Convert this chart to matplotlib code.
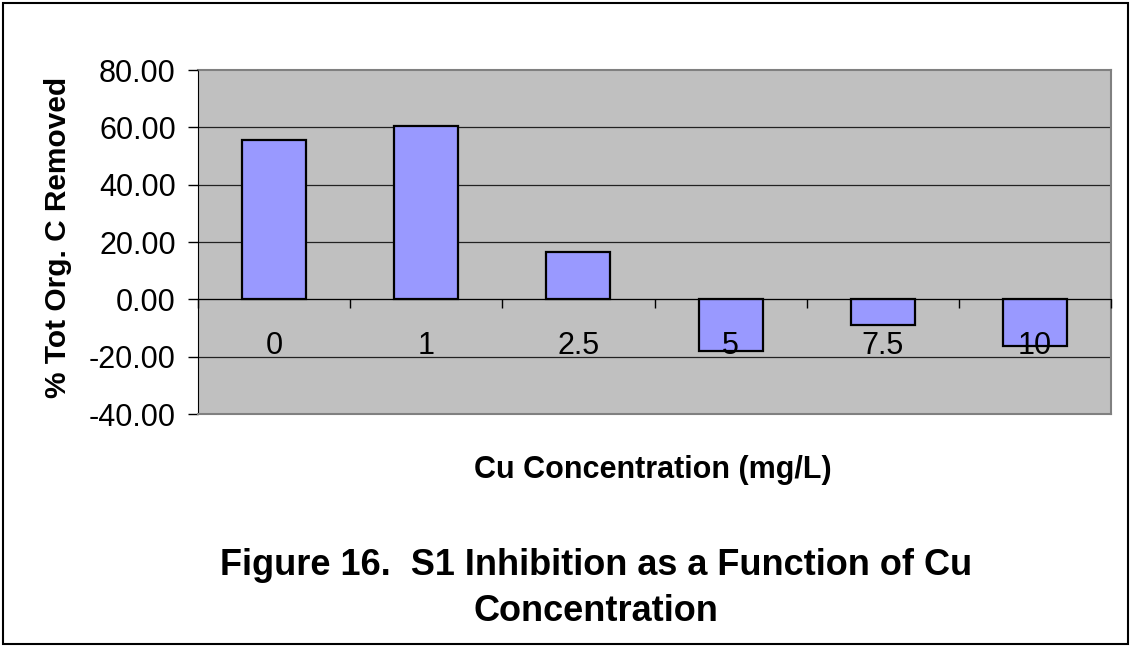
import matplotlib
matplotlib.use("Agg")
import matplotlib.pyplot as plt
from matplotlib.patches import Rectangle

# values
cu_conc = ["0", "1", "2.5", "5", "7.5", "10"]
toc_removed = [55.5, 60.4, 16.5, -18.0, -9.1, -16.3]
y_ticks = [-40, -20, 0, 20, 40, 60, 80]

plt.rcParams['font.family'] = ['Liberation Sans', 'DejaVu Sans']

fig = plt.figure(figsize=(11.33, 6.46), dpi=100)
ax = fig.add_axes([0.1748, 0.3591, 0.8058, 0.5325])
ax.set_facecolor('#C0C0C0')
# axis (and its labels) drawn above the bars, like the excel chart
ax.set_axisbelow(False)

x = list(range(len(cu_conc)))
ax.bar(x, toc_removed, width=0.42, color='#9999FF', edgecolor='black',
       linewidth=1.6, zorder=2)

ax.set_xlim(-0.5, len(cu_conc) - 0.5)
ax.set_ylim(-40, 80)
ax.set_yticks(y_ticks)
ax.set_yticklabels([f"{v:.2f}" for v in y_ticks], fontsize=22)
ax.tick_params(axis='y', direction='out', length=7, width=1, pad=9)

# gridlines
for v in y_ticks[1:-1]:
    ax.axhline(v, color='#222222', linewidth=0.9, zorder=1)

# category axis sits at zero
ax.spines['bottom'].set_position(('data', 0))
ax.spines['bottom'].set_color('black')
ax.spines['left'].set_color('black')
ax.spines['top'].set_color('#808080')
ax.spines['right'].set_color('#808080')
ax.spines['top'].set_linewidth(1.5)
ax.spines['right'].set_linewidth(1.5)
ax.set_xticks([i - 0.5 for i in range(len(cu_conc) + 1)])
ax.set_xticklabels([])
ax.tick_params(axis='x', which='major', direction='out', length=6.5, width=1)
ax.set_xticks(x, minor=True)
ax.set_xticklabels(cu_conc, minor=True, fontsize=22)
ax.tick_params(axis='x', which='minor', length=0, pad=23)

# gray bottom border of the plot area at -40
ax.axhline(-40, color='#808080', linewidth=1.5, zorder=2.6, clip_on=False)

fig.text(0.051, 0.633, "% Tot Org. C Removed", rotation=90,
         ha='center', va='center', fontsize=21.5, fontweight='bold')
fig.text(0.576, 0.272, "Cu Concentration (mg/L)", ha='center', va='center',
         fontsize=22, fontweight='bold')

fig.text(0.526, 0.125, "Figure 16.  S1 Inhibition as a Function of Cu",
         ha='center', va='center', fontsize=26, fontweight='bold')
fig.text(0.526, 0.053, "Concentration",
         ha='center', va='center', fontsize=26, fontweight='bold')

fig.patches.append(Rectangle((0.003, 0.003), 0.993, 0.993, transform=fig.transFigure,
                             fill=False, edgecolor='black', linewidth=1.5))

fig.savefig("out.png", dpi=100)
